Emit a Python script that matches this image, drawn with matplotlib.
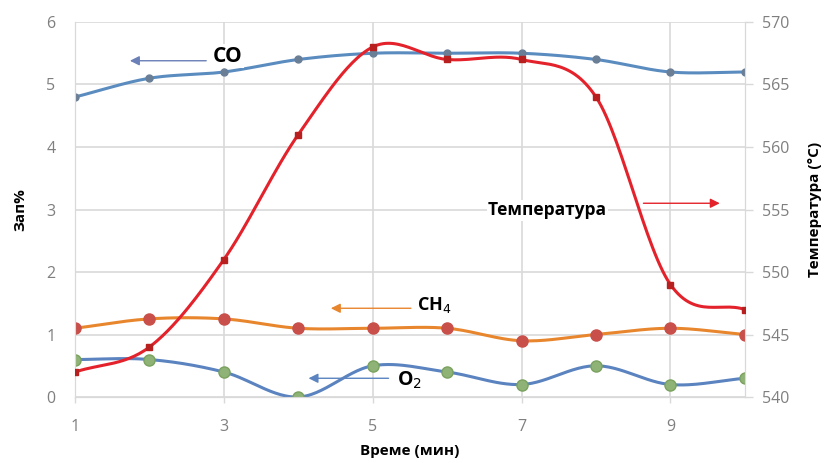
import numpy as np
import matplotlib.pyplot as plt

plt.rcParams['font.family'] = ['Open Sans', 'DejaVu Sans']

time_min = [1, 2, 3, 4, 5, 6, 7, 8, 9, 10]
co = [4.8, 5.1, 5.2, 5.4, 5.5, 5.5, 5.5, 5.4, 5.2, 5.2]
ch4 = [1.1, 1.25, 1.25, 1.1, 1.1, 1.1, 0.9, 1.0, 1.1, 1.0]
o2 = [0.6, 0.6, 0.4, 0.0, 0.5, 0.4, 0.2, 0.5, 0.2, 0.3]
temperature = [542, 544, 551, 561, 568, 567, 567, 564, 549, 547]


def smooth(x, y, n=30):
    # Catmull-Rom curve through the points, like Excel's smoothed lines
    x = np.asarray(x, float)
    y = np.asarray(y, float)
    px = np.concatenate([[2 * x[0] - x[1]], x, [2 * x[-1] - x[-2]]])
    py = np.concatenate([[2 * y[0] - y[1]], y, [2 * y[-1] - y[-2]]])
    xs, ys = [], []
    t = np.linspace(0, 1, n)
    for i in range(1, len(px) - 2):
        for p, out in ((px, xs), (py, ys)):
            p0, p1, p2, p3 = p[i - 1], p[i], p[i + 1], p[i + 2]
            out.extend(0.5 * (2 * p1 + (-p0 + p2) * t
                              + (2 * p0 - 5 * p1 + 4 * p2 - p3) * t ** 2
                              + (-p0 + 3 * p1 - 3 * p2 + p3) * t ** 3))
    return np.array(xs), np.array(ys)


fig = plt.figure(figsize=(8.29, 4.63), dpi=100)
ax = fig.add_axes([0.0905, 0.1425, 0.808, 0.81])
ax2 = ax.twinx()

grey = '#d9d9d9'
tick_col = '#7f7f7f'

sx, sy = smooth(time_min, co)
ax.plot(sx, sy, color='#5b8cc0', lw=2.2, zorder=3)
ax.plot(time_min, co, 'o', color='#6a7f96', ms=5, zorder=4)

sx, sy = smooth(time_min, ch4)
ax.plot(sx, sy, color='#e8862e', lw=2.2, zorder=3)
ax.plot(time_min, ch4, 'o', color='#c9504a', ms=8, zorder=4)

sx, sy = smooth(time_min, o2)
ax.plot(sx, sy, color='#5a83bf', lw=2.2, zorder=3)
ax.plot(time_min, o2, 'o', color='#8fb376', mec='#7aa25f', ms=8, zorder=4)

sx, sy = smooth(time_min, temperature)
ax2.plot(sx, sy, color='#e3222b', lw=2.2, zorder=3)
ax2.plot(time_min, temperature, 's', color='#b81f1f', ms=4.5, zorder=4)

ax.set_xlim(1, 10)
ax.set_ylim(0, 6)
ax2.set_ylim(540, 570)
ax.set_xticks([1, 3, 5, 7, 9])
ax.set_yticks(range(0, 7))
ax2.set_yticks(range(540, 571, 5))

ax.grid(True, color=grey, lw=1.2)
ax.set_axisbelow(True)
for a in (ax, ax2):
    a.spines['top'].set_visible(False)
    a.spines['left'].set_color(grey)
    a.spines['right'].set_color(grey)
    a.spines['bottom'].set_color(grey)
    a.tick_params(colors=tick_col, labelsize=11.5, length=4, width=1)
    a.tick_params(axis='y', color=grey)
    a.tick_params(axis='x', color=grey, pad=12)
ax.tick_params(axis='y', length=0, pad=14)
ax2.tick_params(axis='y', length=6, pad=6)

ax.set_xlabel('Време (мин)', fontsize=11, fontweight='bold', labelpad=6)
ax.set_ylabel('Зап%', fontsize=11, fontweight='bold', labelpad=14)
ax2.set_ylabel('Температура (°C)', fontsize=11, fontweight='bold', labelpad=14)

box = dict(facecolor='white', edgecolor='none', pad=1)
arrow_kw = dict(arrowstyle='-|>', lw=1, mutation_scale=14)
ax.annotate('', xy=(1.7, 5.38), xytext=(2.8, 5.38),
            arrowprops=dict(color='#6b7fb8', **arrow_kw))
ax.text(2.85, 5.45, 'CO', fontsize=15, fontweight='bold', va='center', bbox=box)
ax.text(6.55, 2.99, 'Температура', fontsize=12.5, fontweight='bold',
        va='center', bbox=box, zorder=2)
ax.annotate('', xy=(9.7, 3.1), xytext=(8.6, 3.1),
            arrowprops=dict(color='#e3222b', **arrow_kw))
ax.annotate('', xy=(4.4, 1.42), xytext=(5.55, 1.42),
            arrowprops=dict(color='#e8862e', **arrow_kw))
ax.text(5.6, 1.47, 'CH$_4$', fontsize=13, fontweight='bold', va='center')
ax.annotate('', xy=(4.1, 0.3), xytext=(5.25, 0.3),
            arrowprops=dict(color='#5a83bf', **arrow_kw))
ax.text(5.33, 0.27, 'O$_2$', fontsize=14, fontweight='bold', va='center')

fig.savefig('out.png', dpi=100)
